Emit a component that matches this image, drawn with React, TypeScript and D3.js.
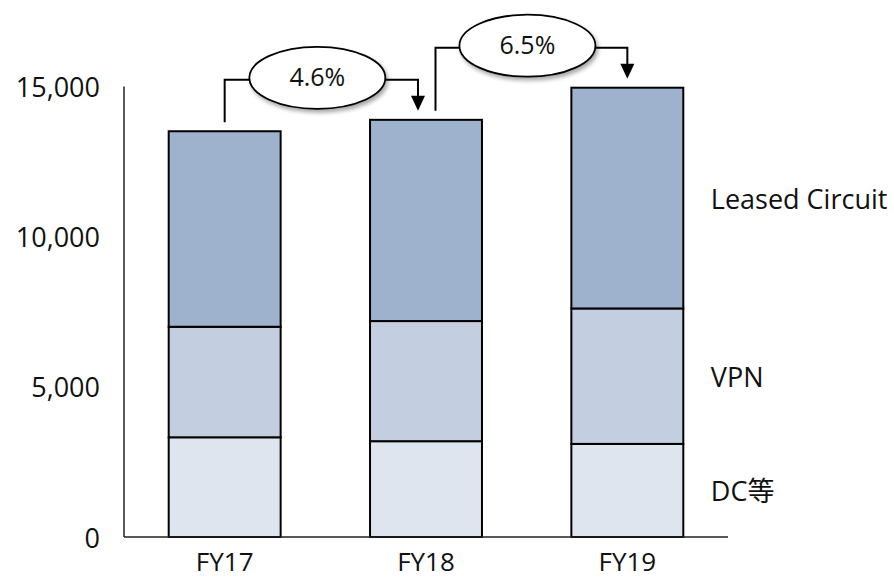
import React from "react";
import * as d3 from "d3";

const categories = ["FY17", "FY18", "FY19"];
const dcValues = [3320, 3190, 3100];
const vpnValues = [3680, 4000, 4510];
const leasedValues = [6510, 6700, 7350];
const seriesNames = ["DC等", "VPN", "Leased Circuit"];
const seriesColors = ["#dee5ef", "#c3cee1", "#9eb1cd"];
const growthLabels = ["4.6%", "6.5%"];
const yTicks = [0, 5000, 10000, 15000];

const W = 894;
const H = 580;
const FONT = "'Open Sans', 'Noto Sans CJK JP', sans-serif";

export default function App() {
  const x = d3
    .scaleBand<string>()
    .domain(categories)
    .range([124, 728])
    .paddingInner(0.444)
    .paddingOuter(0.222);
  const y = d3.scaleLinear().domain([0, 15000]).range([537, 86.5]);

  const rows = categories.map((c, i) => ({
    cat: c,
    dc: dcValues[i],
    vpn: vpnValues[i],
    leased: leasedValues[i],
  }));
  const stack = d3.stack<any>().keys(["dc", "vpn", "leased"]);
  const series = stack(rows);
  const bw = x.bandwidth();
  const totals = rows.map((r) => r.dc + r.vpn + r.leased);
  const last = categories.length - 1;

  // growth connectors
  const connectors = growthLabels.map((label, i) => {
    const fromCx = (x(categories[i]) as number) + bw / 2;
    const toCx = (x(categories[i + 1]) as number) + bw / 2;
    const fromX = i === 0 ? fromCx : fromCx + 9.5;
    const toX = i === 0 ? toCx - 8 : toCx;
    const fromY = y(totals[i]) - 9;
    const toY = y(totals[i + 1]) - 9;
    const lineY = y(totals[i + 1]) - 40;
    const ecx = (fromX + toX) / 2 - 4;
    const ecy = lineY - 2;
    return { label, fromX, toX, fromY, toY, lineY, ecx, ecy };
  });

  return (
    <div style={{ position: "absolute", left: 0, top: 0 }}>
      <svg width={W} height={H} style={{ display: "block", background: "#fff" }}>
        <defs>
          <filter id="shadow" x="-20%" y="-30%" width="150%" height="170%">
            <feGaussianBlur in="SourceAlpha" stdDeviation="2" />
            <feOffset dx="2" dy="3" result="ob" />
            <feComponentTransfer>
              <feFuncA type="linear" slope="0.35" />
            </feComponentTransfer>
            <feMerge>
              <feMergeNode />
              <feMergeNode in="SourceGraphic" />
            </feMerge>
          </filter>
        </defs>

        {/* bars */}
        {series.map((s, si) =>
          s.map((d, di) => (
            <rect
              key={`${si}-${di}`}
              x={x(categories[di]) as number}
              y={y(d[1])}
              width={bw}
              height={y(d[0]) - y(d[1])}
              fill={seriesColors[si]}
              stroke="#000"
              strokeWidth={2}
            />
          ))
        )}

        {/* axes */}
        <line x1={124} x2={124} y1={y(15000)} y2={y(0)} stroke="#222" strokeWidth={1.5} />
        <line x1={124} x2={728} y1={y(0)} y2={y(0)} stroke="#222" strokeWidth={1.5} />

        {/* y tick labels */}
        {yTicks.map((t) => (
          <text
            key={t}
            x={100}
            y={y(t) + 10.5}
            textAnchor="end"
            fontFamily={FONT}
            fontSize={27}
            fill="#111"
          >
            {d3.format(",")(t)}
          </text>
        ))}

        {/* x labels */}
        {categories.map((c) => (
          <text
            key={c}
            x={(x(c) as number) + bw / 2}
            y={571}
            textAnchor="middle"
            fontFamily={FONT}
            fontSize={26}
            fill="#111"
          >
            {c}
          </text>
        ))}

        {/* series labels at last bar */}
        {series.map((s, si) => {
          const d = s[last];
          const mid = (y(d[0]) + y(d[1])) / 2;
          return (
            <text
              key={si}
              x={(x(categories[last]) as number) + bw + 27.5}
              y={mid + 10.5}
              fontFamily={FONT}
              fontSize={27}
              fill="#111"
            >
              {seriesNames[si]}
            </text>
          );
        })}

        {/* growth connectors */}
        {connectors.map((c, i) => (
          <g key={i}>
            <path
              d={`M${c.fromX},${c.fromY} V${c.lineY} H${c.toX} V${c.toY - 14}`}
              fill="none"
              stroke="#000"
              strokeWidth={2}
            />
            <path
              d={`M${c.toX - 7},${c.toY - 15} L${c.toX + 7},${c.toY - 15} L${c.toX},${c.toY} Z`}
              fill="#000"
            />
            <ellipse
              cx={c.ecx}
              cy={c.ecy}
              rx={68}
              ry={31}
              fill="#fff"
              stroke="#000"
              strokeWidth={1.8}
              filter="url(#shadow)"
            />
            <text
              x={c.ecx}
              y={c.ecy + 8}
              textAnchor="middle"
              fontFamily={FONT}
              fontSize={25}
              fill="#111"
            >
              {c.label}
            </text>
          </g>
        ))}
      </svg>
    </div>
  );
}
